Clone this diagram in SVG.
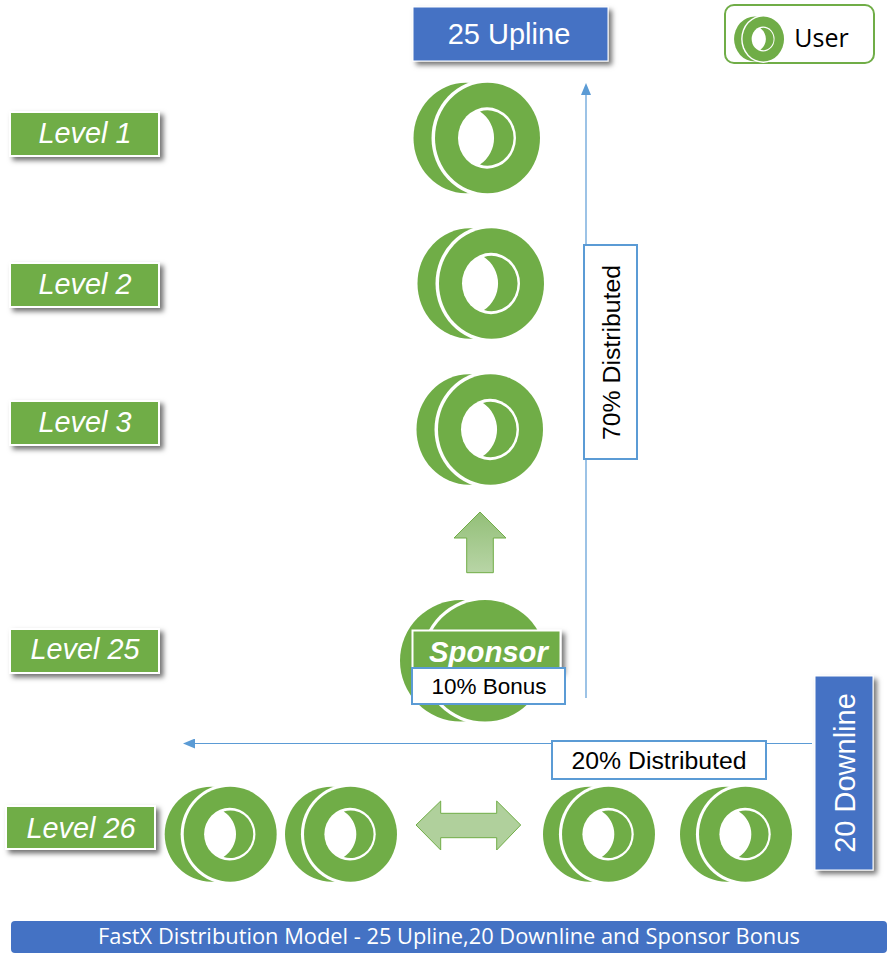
<svg xmlns="http://www.w3.org/2000/svg" xmlns:xlink="http://www.w3.org/1999/xlink" width="892" height="967" viewBox="0 0 892 967">
<style>
text{font-family:"Liberation Sans",Arial,sans-serif;text-anchor:middle}
.lv{fill:#70ad47;stroke:#fff;stroke-width:2;filter:url(#sh)}
.lt{fill:#fff;font-style:italic;font-size:28.800px}
.bx{fill:#fff;stroke:#5b9bd5;stroke-width:2}
.bt{fill:#000}
.blue{fill:#4472c4}
.cn{stroke:#5b9bd5;stroke-width:1.2;fill:none}
.g{fill:#70ad47}
.w{fill:#fff}
</style>
<defs>
<filter id="sh" x="-15%" y="-30%" width="135%" height="170%"><feDropShadow dx="3.500" dy="3.500" stdDeviation="2.500" flood-color="#000" flood-opacity="0.55"/></filter>
<marker id="ah" markerWidth="12" markerHeight="10" refX="1" refY="5" orient="auto" markerUnits="userSpaceOnUse" viewBox="0 0 12 10"><path d="M0,0 L12,5 L0,10 Z" fill="#5b9bd5"/></marker>
<linearGradient id="gr" x1="0" y1="0" x2="0" y2="1"><stop offset="0" stop-color="#93bf78"/><stop offset="1" stop-color="#b8d5a6"/></linearGradient>
<g id="coin">
<ellipse class="g" cx="-21.500" cy="0" rx="52.500" ry="55.300"/>
<ellipse class="w" cx="0" cy="0" rx="56" ry="58.800"/>
<ellipse class="g" cx="0" cy="0" rx="52.500" ry="55.300"/>
<ellipse class="w" cx="-0.500" cy="0" rx="29" ry="30.700"/>
<path class="g" d="M-7.500,-26.500 A26 27.700 0 1 1 -7.500,26.500 A32 32 0 0 0 -7.500,-26.500 Z"/>
</g>
</defs>
<rect width="892" height="967" fill="#fff"/>

<g id="connectors">
<path class="cn" d="M586,698 V94" marker-end="url(#ah)"/>
<path class="cn" d="M812,743.500 H194" marker-end="url(#ah)"/>
</g>

<g id="upline"><rect class="blue" x="413" y="7" width="195" height="54" stroke="#fff" stroke-width="1" filter="url(#sh)"/><text x="509" y="44" fill="#fff" font-size="29">25 Upline</text></g>
<g id="legend"><rect x="725" y="5" width="149" height="58" rx="9" fill="#fff" stroke="#70ad47" stroke-width="2"/><use xlink:href="#coin" href="#coin" transform="translate(763.300 39) scale(.395 .407)"/><text x="821.500" y="47" font-size="25" style="font-family:'Open Sans',sans-serif">User</text></g>

<g id="level1"><rect class="lv" x="10" y="112" width="149" height="44"/><text class="lt" x="85" y="143">Level 1</text></g>
<g id="level2"><rect class="lv" x="10" y="263" width="149" height="44"/><text class="lt" x="85" y="294">Level 2</text></g>
<g id="level3"><rect class="lv" x="10" y="401" width="149" height="44"/><text class="lt" x="85" y="432">Level 3</text></g>
<g id="level25"><rect class="lv" x="10" y="629" width="149" height="44"/><text class="lt" x="85" y="659">Level 25</text></g>
<g id="level26"><rect class="lv" x="6" y="806" width="149" height="43"/><text class="lt" x="81" y="838">Level 26</text></g>

<g id="coin1"><use xlink:href="#coin" href="#coin" transform="translate(487.500 138)"/></g>
<g id="coin2"><use xlink:href="#coin" href="#coin" transform="translate(491.500 283.500)"/></g>
<g id="coin3"><use xlink:href="#coin" href="#coin" transform="translate(490.500 429.500)"/></g>
<g id="coin26a"><use xlink:href="#coin" href="#coin" transform="translate(230.200 834.200) scale(.885 .859)"/></g>
<g id="coin26b"><use xlink:href="#coin" href="#coin" transform="translate(350.500 834.200) scale(.885 .859)"/></g>
<g id="coin26c"><use xlink:href="#coin" href="#coin" transform="translate(608.500 834.200) scale(.885 .859)"/></g>
<g id="coin26d"><use xlink:href="#coin" href="#coin" transform="translate(745.500 834.200) scale(.885 .859)"/></g>

<g id="sponsor">
<circle class="g" cx="460.800" cy="660.800" r="60.800"/>
<circle class="w" cx="485" cy="660.800" r="64"/>
<circle class="g" cx="485" cy="660.800" r="60.800"/>
<rect class="lv" x="412.500" y="630.500" width="148" height="40"/>
<text x="488.500" y="662" fill="#fff" font-weight="bold" font-style="italic" font-size="29.300">Sponsor</text>
<rect class="bx" x="412" y="668" width="153" height="36"/>
<text class="bt" x="489" y="694" font-size="22.500">10% Bonus</text>
</g>

<g id="up-arrow"><path d="M480,512 L506,538 H493.300 V572.700 H466.700 V538 H454 Z" fill="url(#gr)" stroke="#70ad47" stroke-width="1"/></g>
<g id="both-arrow"><path d="M416,825 L440.700,801 V813.300 H496.700 V801 L520.700,825 L496.700,850 V837.700 H440.700 V850 Z" fill="#b0d09c" stroke="#70ad47" stroke-width="1"/></g>

<g id="label70"><rect class="bx" x="584" y="245" width="53" height="214"/><text class="bt" font-size="24.800" transform="translate(620 352.500) rotate(-90)">70% Distributed</text></g>
<g id="label20"><rect class="bx" x="552" y="741" width="214" height="38"/><text class="bt" x="659" y="769" font-size="24.800">20% Distributed</text></g>
<g id="downline"><rect class="blue" x="815" y="676" width="58" height="194" stroke="#fff" stroke-width="1" filter="url(#sh)"/><text fill="#fff" font-size="29" transform="translate(855 773) rotate(-90)">20 Downline</text></g>
<g id="title"><rect class="blue" x="11" y="921" width="876" height="32" rx="4"/><text x="449" y="944" fill="#fff" font-size="21.500" style="font-family:'Open Sans',sans-serif" textLength="702" lengthAdjust="spacingAndGlyphs">FastX Distribution Model - 25 Upline,20 Downline and Sponsor Bonus</text></g>
</svg>
